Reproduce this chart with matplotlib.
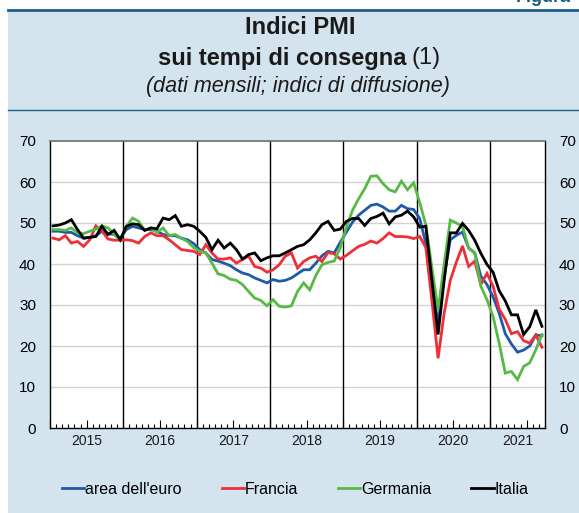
import matplotlib
matplotlib.use("Agg")
import matplotlib.pyplot as plt
from matplotlib.patches import Rectangle
from matplotlib.lines import Line2D
import numpy as np

plt.rcParams['font.family'] = ['Liberation Sans', 'DejaVu Sans']

# Monthly data, Jan 2015 - Sep 2021
years = ['2015', '2016', '2017', '2018', '2019', '2020', '2021']
series_names = ["area dell'euro", 'Francia', 'Germania', 'Italia']

euro = [48, 48, 47.7, 47.7, 46.9, 46.3, 46.5, 46.9, 48, 47.4, 47.2, 46.3,
        48.4, 49.2, 48.8, 48.4, 48.4, 48, 47.2, 46.9, 46.9, 46.3, 45.9, 45,
        43.5, 42.7, 41.1, 40.7, 40.2, 39.6, 38.6, 37.8, 37.4, 36.6, 36, 35.4,
        36.2, 35.8, 36, 36.6, 37.6, 38.6, 38.6, 40.2, 42, 43.1, 42.7, 45.3,
        47.8, 50.2, 51.9, 53.1, 54.3, 54.6, 53.9, 52.9, 52.9, 54.3, 53.5, 53.3,
        51.1, 45, 35.2, 25.5, 37, 45.9, 47, 47.8, 43.9, 42.7, 37, 35,
        32, 28, 23, 20.5, 18.5, 19, 20, 22.7, 22.5]

francia = [46.3, 45.9, 46.9, 45.1, 45.5, 44.3, 45.9, 49.3, 48, 46.1, 45.8, 45.8,
           45.9, 45.7, 45.1, 46.7, 47.6, 46.9, 46.9, 45.9, 44.7, 43.5, 43.3, 43.1,
           42.3, 44.7, 42.7, 41.2, 41.2, 41.5, 40.2, 41.1, 41.9, 39.4, 39, 38,
           38.6, 39.8, 41.9, 42.7, 39, 40.6, 41.5, 41.9, 40.6, 42.8, 42.5, 41.2,
           42.1, 43.2, 44.3, 44.8, 45.6, 45.1, 46.2, 47.6, 46.7, 46.7, 46.6, 46.2,
           46.7, 44, 31, 17, 28, 36, 40.5, 44.4, 39.4, 40.7, 35, 37.7,
           34.6, 29, 26.5, 23, 23.5, 21.3, 20.7, 22.7, 19.7]

germania = [48.4, 48.4, 48.2, 48.8, 47.6, 47.4, 48, 48.5, 49.3, 48.8, 47.2, 45.9,
            49.2, 51.2, 50.4, 48.2, 48.8, 47.7, 48.8, 46.9, 47.2, 46.3, 45.5, 44,
            43.1, 42.7, 40.2, 37.6, 37.2, 36.3, 36, 35, 33.3, 31.7, 31.1, 29.8,
            31.3, 29.7, 29.5, 29.8, 33.3, 35.4, 33.7, 37.2, 39.8, 40.4, 40.7, 44,
            49, 53.1, 55.9, 58.4, 61.4, 61.5, 59.6, 58.1, 57.6, 60.2, 58.1, 59.8,
            55, 49.5, 39, 28.8, 40, 50.7, 50, 49.2, 43.9, 42.7, 34.6, 31.3,
            27.2, 20.7, 13.4, 13.8, 11.8, 15, 15.9, 19.1, 22.8]

italia = [49.3, 49.5, 50, 50.8, 48.4, 46.3, 46.5, 46.7, 49.2, 47.2, 48.2, 45.9,
          49.2, 49.8, 49.6, 48.2, 48.8, 48.6, 51.2, 50.8, 51.8, 49.2, 49.6, 49.2,
          48, 46.5, 43.5, 45.8, 43.9, 45.1, 43.5, 41.2, 42.3, 42.7, 40.8, 41.5,
          42, 42, 42.7, 43.5, 44.3, 44.7, 45.9, 47.6, 49.6, 50.4, 48.2, 48.5,
          50.4, 51.1, 51.1, 49.4, 51.1, 51.6, 52.4, 49.8, 51.5, 51.9, 52.9, 51.5,
          49, 49.2, 36, 22.8, 36, 47.6, 47.6, 49.9, 48.2, 45.8, 42.6, 39.9,
          38, 33.5, 31, 27.6, 27.6, 22.8, 24.7, 28.8, 24.8]

yticks = [0, 10, 20, 30, 40, 50, 60, 70]

colors = ['#1f5aa8', '#ee2f37', '#58b947', '#000000']

W, H = 579, 513
fig = plt.figure(figsize=(W / 100, H / 100), dpi=100)
fig.patch.set_facecolor('white')

# panel background
fig.patches.append(Rectangle((8 / W, 0), 1 - 8 / W, 1 - 10 / H, transform=fig.transFigure,
                             facecolor='#d4e4ef', edgecolor='none', zorder=-10))
# top rule & header rule
fig.add_artist(Line2D([8 / W, 1], [1 - 10 / H, 1 - 10 / H], color='#1d5d86', lw=2.0, zorder=-5))
fig.add_artist(Line2D([8 / W, 1], [1 - 110 / H, 1 - 110 / H], color='#1d5d86', lw=1.0, zorder=-5))
fig.text(571 / W, 1 - 1.5 / H, 'Figura', ha='right', va='baseline', fontsize=13,
         fontweight='bold', color='#1b5a80')

cx = 0.518
fig.text(cx, 1 - 28 / H, 'Indici PMI', ha='center', va='center', fontsize=17,
         fontweight='bold', color='#1a1a1a')
t1 = fig.text(cx - 0.030, 1 - 58 / H, 'sui tempi di consegna', ha='center', va='center',
              fontsize=17, fontweight='bold', color='#1a1a1a')
fig.canvas.draw()
bb = t1.get_window_extent()
fig.text((bb.x1 + 5) / W, 1 - 58 / H, '(1)', ha='left', va='center', fontsize=17,
         color='#1a1a1a')
fig.text(cx - 0.003, 1 - 87 / H, '(dati mensili; indici di diffusione)', ha='center', va='center',
         fontsize=15.5, fontstyle='italic', color='#1a1a1a')

ax = fig.add_axes([50 / W, 1 - 428 / H, 495 / W, 287 / H])
ax.set_zorder(1)
ax.set_facecolor('white')
n = len(euro)
x = np.arange(n) + 0.5
for vals, c, name in zip([euro, francia, germania, italia], colors, series_names):
    ax.plot(x, vals, color=c, lw=2.0, label=name, solid_joinstyle='miter', zorder=3)

ax.set_xlim(0, n)
ax.set_ylim(0, 70)
ax.set_yticks(yticks)
for yv in yticks[1:-1]:
    ax.axhline(yv, color='#d2d2d2', lw=1.0, zorder=1)
for k in range(1, len(years)):
    ax.axvline(12 * k, color='black', lw=1.0, zorder=2)

ax.tick_params(axis='y', which='both', length=0, labelsize=11, labelright=True,
               right=False, left=False, pad=10)
ax.set_xticks(np.arange(0, n + 1, 6))
ax.set_xticks(np.arange(0, n + 1, 1), minor=True)
ax.tick_params(axis='x', which='major', direction='in', length=6, width=0.8, labelbottom=False)
ax.tick_params(axis='x', which='minor', direction='in', length=3, width=0.8)
for i, yr in enumerate(years):
    xc = (12 * i + min(12 * (i + 1), n)) / 2
    ax.text(xc, -3.2, yr, ha='center', va='center', fontsize=10, color='#1a1a1a')

for s in ['left', 'right', 'bottom']:
    ax.spines[s].set_color('black')
    ax.spines[s].set_linewidth(1.0)
ax.spines['top'].set_color('#6d6d6d')
ax.spines['top'].set_linewidth(1.2)

leg = fig.legend(loc='center', bbox_to_anchor=(0.51, 1 - 489 / H), ncol=4, frameon=False,
                 fontsize=11.5, handlelength=1.4, handletextpad=0.05, columnspacing=2.5)

fig.savefig('out.png', dpi=100, facecolor=fig.get_facecolor())
